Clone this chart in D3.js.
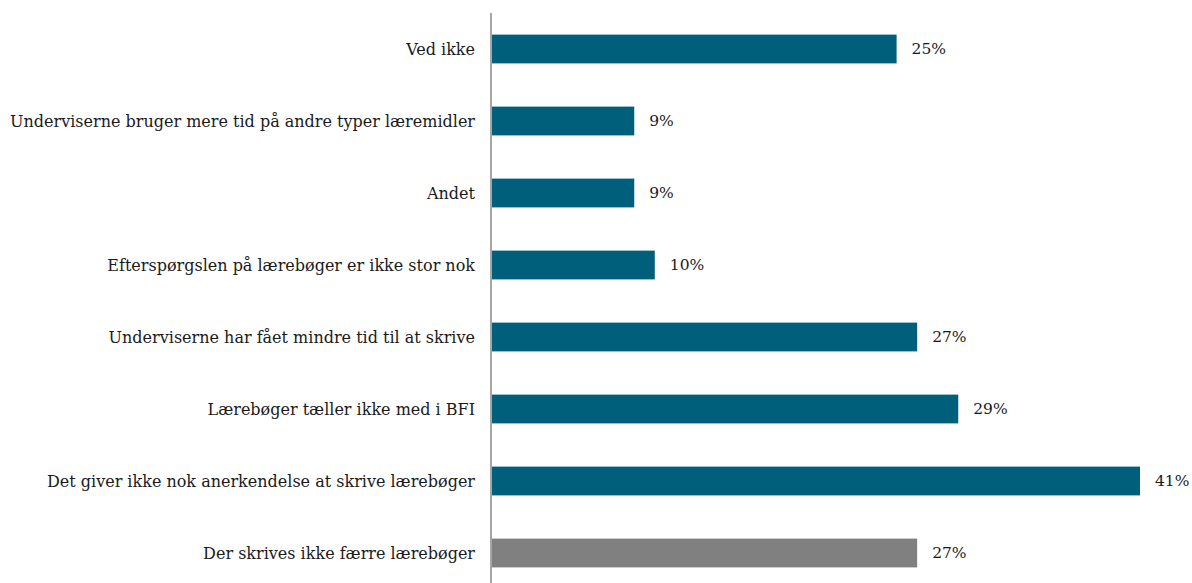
<!DOCTYPE html>
<html>
<head>
<meta charset="utf-8">
<script src="https://cdn.jsdelivr.net/npm/d3@7"></script>
<style>
  body { margin: 0; background: #fff; }
  text { font-family: Georgia, "DejaVu Serif", serif; fill: #1a1a1a; }
</style>
</head>
<body>
<div id="chart"></div>
<script>
// Chart data
var categories = [
  "Ved ikke",
  "Underviserne bruger mere tid på andre typer læremidler",
  "Andet",
  "Efterspørgslen på lærebøger er ikke stor nok",
  "Underviserne har fået mindre tid til at skrive",
  "Lærebøger tæller ikke med i BFI",
  "Det giver ikke nok anerkendelse at skrive lærebøger",
  "Der skrives ikke færre lærebøger"
];
var values = [25.6, 9.0, 9.0, 10.3, 26.9, 29.5, 41.0, 26.9];
var valueLabels = ["25%", "9%", "9%", "10%", "27%", "29%", "41%", "27%"];

var width = 1192, height = 583;
var axisX = 491;

var svg = d3.select("#chart").append("svg")
  .attr("width", width)
  .attr("height", height);

var x = d3.scaleLinear().domain([0, 41]).range([axisX + 1, 1140]);
var y = d3.scaleBand().domain(categories).range([13, 589])
  .paddingInner(0.6).paddingOuter(0.3);

var data = categories.map(function(c, i) {
  return { cat: c, v: values[i], label: valueLabels[i], last: i === categories.length - 1 };
});

svg.selectAll("rect.bar").data(data).enter().append("rect")
  .attr("class", "bar")
  .attr("x", x(0))
  .attr("y", function(d) { return y(d.cat); })
  .attr("width", function(d) { return x(d.v) - x(0); })
  .attr("height", y.bandwidth())
  .attr("fill", function(d) { return d.last ? "#808080" : "#005f7a"; });

// value labels
svg.selectAll("text.val").data(data).enter().append("text")
  .attr("class", "val")
  .attr("x", function(d) { return x(d.v) + 15; })
  .attr("y", function(d) { return y(d.cat) + y.bandwidth() / 2; })
  .attr("dy", "0.35em")
  .style("font-size", "15.5px")
  .text(function(d) { return d.label; });

// category labels
svg.selectAll("text.cat").data(data).enter().append("text")
  .attr("class", "cat")
  .attr("x", axisX - 16)
  .attr("y", function(d) { return y(d.cat) + y.bandwidth() / 2; })
  .attr("dy", "0.35em")
  .attr("text-anchor", "end")
  .style("font-size", "16px")
  .text(function(d) { return d.cat; });

// vertical axis line
svg.append("line")
  .attr("x1", axisX).attr("x2", axisX)
  .attr("y1", 13).attr("y2", height)
  .attr("stroke", "#a6a6a6")
  .attr("stroke-width", 2);
</script>
</body>
</html>
